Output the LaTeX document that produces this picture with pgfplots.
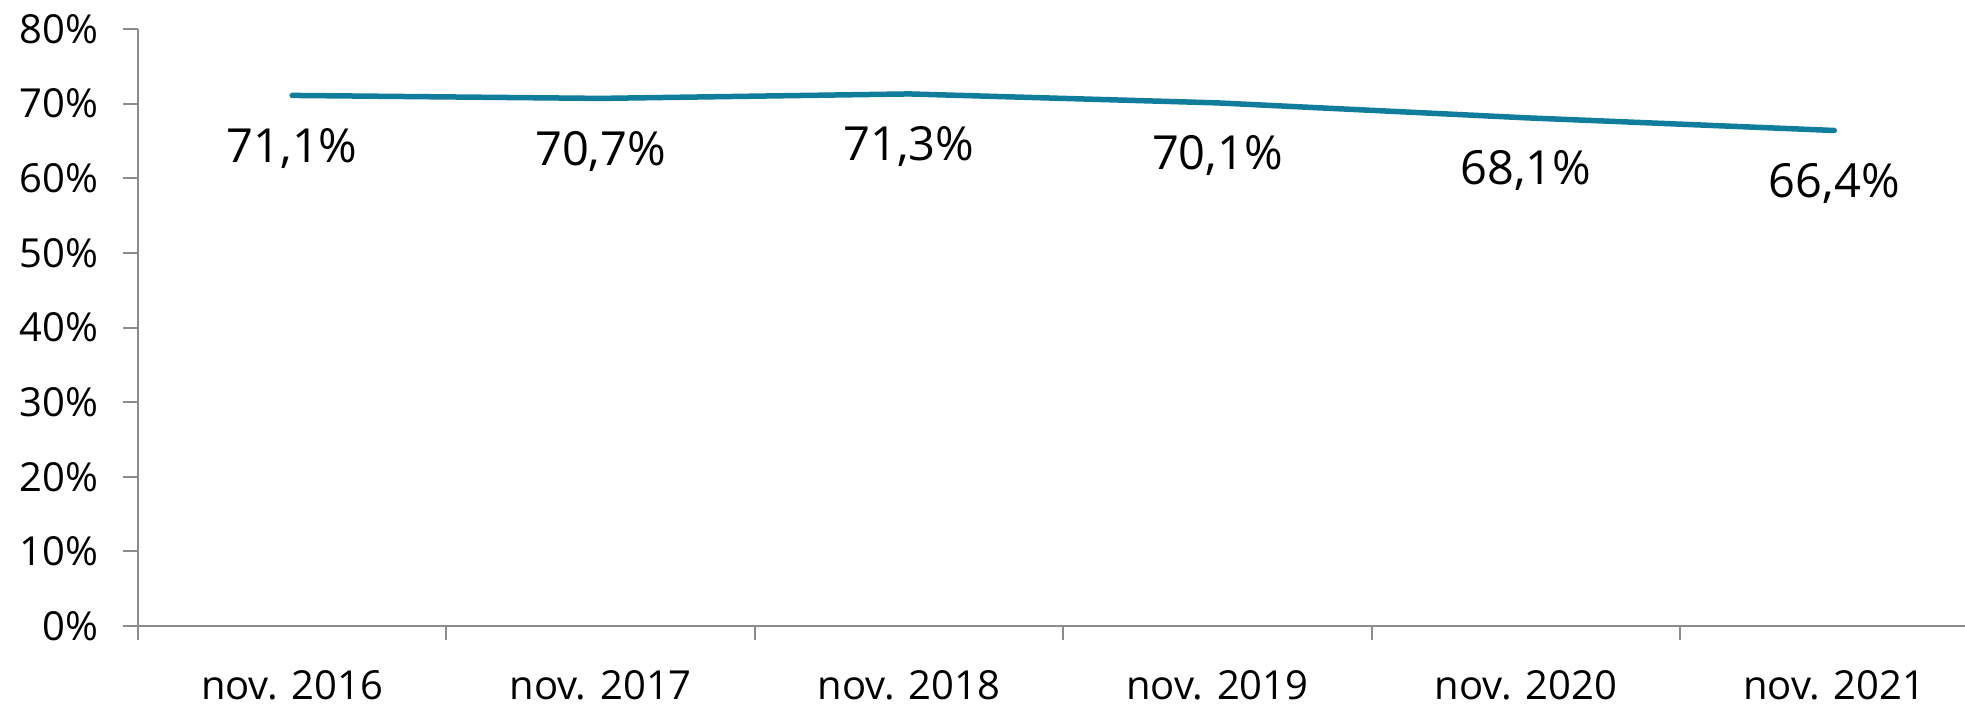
\documentclass[border=0pt]{standalone}
\usepackage{pgfplots}
\pgfplotsset{compat=1.18}
\usepackage{fontspec}
\setmainfont{Open Sans}
\definecolor{linecol}{RGB}{15,125,155}
\definecolor{axcol}{RGB}{140,140,140}
\begin{document}
\begin{tikzpicture}
\path[use as bounding box] (0,0) rectangle (982.5pt,354pt);
\begin{axis}[
  at={(69pt,41pt)}, anchor=south west,
  scale only axis, width=913.5pt, height=298.5pt,
  xmin=-0.5, xmax=5.424, ymin=0, ymax=80,
  axis x line*=bottom, axis y line*=left,
  axis line style={draw=axcol, line width=1pt, -},
  every tick/.style={draw=axcol, line width=1pt},
  tick align=outside,
  major tick length=7.5pt, minor tick length=7pt,
  xtick={0,1,2,3,4,5},
  xticklabels={nov. 2016,nov. 2017,nov. 2018,nov. 2019,nov. 2020,nov. 2021},
  major x tick style={draw=none},
  minor xtick={-0.5,0.5,1.5,2.5,3.5,4.5},
  ytick={0,10,20,30,40,50,60,70,80},
  yticklabels={0\%,10\%,20\%,30\%,40\%,50\%,60\%,70\%,80\%},
  ticklabel style={font=\fontsize{20}{24}\selectfont, text=black},
  yticklabel style={xshift=-9pt},
  xticklabel style={yshift=-11pt},
  /pgf/number format/assume math mode=true,
  clip=false,
  point meta=y,
  nodes near coords={\pgfmathprintnumber[fixed, fixed zerofill, precision=1, use comma]{\pgfplotspointmeta}\%},
  every node near coord/.append style={anchor=center, yshift=-26.5pt, font=\fontsize{23.5}{28}\selectfont, text=black},
]
\addplot[color=linecol, line width=2.75pt, line cap=round, line join=round, mark=none]
  coordinates {(0,71.1) (1,70.7) (2,71.3) (3,70.1) (4,68.1) (5,66.4)};
\end{axis}
\end{tikzpicture}
\end{document}
